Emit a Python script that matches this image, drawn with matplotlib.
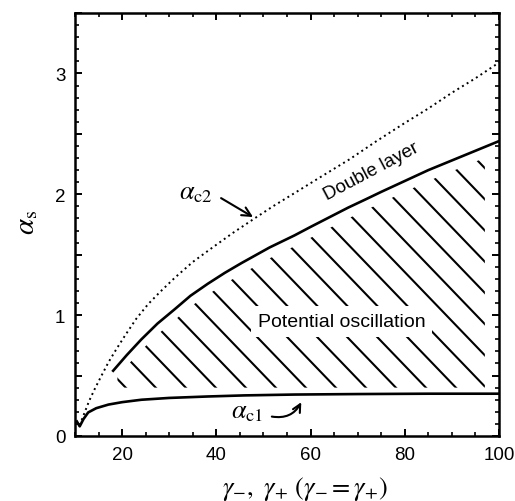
import numpy as np
import matplotlib.pyplot as plt
from matplotlib.collections import LineCollection
from matplotlib.patches import Polygon
from matplotlib.ticker import MultipleLocator, FuncFormatter

plt.rcParams['font.family'] = ['Liberation Sans', 'DejaVu Sans']
plt.rcParams['mathtext.fontset'] = 'stix'

# alpha_c2 (dotted)
gamma_c2 = [11.0, 12.1, 13.0, 14.2, 15.5, 17.1, 18.8, 20.6, 23.0, 25.5, 28.0, 31.2, 35.0,
            39.2, 43.5, 48.1, 52.0, 56.6, 62.0, 68.3, 74.0, 80.0, 85.0, 90.0, 95.0, 100.0]
alpha_c2 = [0.09, 0.20, 0.29, 0.39, 0.49, 0.61, 0.72, 0.83, 0.97, 1.09, 1.19, 1.31, 1.44,
            1.56, 1.68, 1.80, 1.90, 2.01, 2.14, 2.29, 2.44, 2.59, 2.71, 2.84, 2.96, 3.09]

# double layer boundary (solid, upper)
gamma_dl = [18.1, 21.0, 24.1, 27.5, 31.2, 34.5, 38.2, 41.8, 45.3, 51.3, 56.6, 60.0, 64.0,
            68.0, 71.8, 75.0, 80.0, 85.0, 90.0, 95.0, 100.0]
alpha_dl = [0.54, 0.67, 0.80, 0.93, 1.05, 1.16, 1.26, 1.35, 1.43, 1.56, 1.66, 1.73, 1.81,
            1.89, 1.96, 2.02, 2.11, 2.20, 2.28, 2.36, 2.44]

# alpha_c1 (solid, lower)
gamma_c1 = [10.4, 11.0, 11.8, 12.8, 14.5, 17.1, 20.0, 24.1, 30.0, 38.2, 46.0, 56.6, 70.0, 85.0, 100.0]
alpha_c1 = [0.12, 0.08, 0.14, 0.195, 0.23, 0.26, 0.28, 0.30, 0.315, 0.327, 0.336, 0.343, 0.347, 0.35, 0.35]

fig = plt.figure(figsize=(5.15, 5.02), dpi=100)
ax = fig.add_axes([75/515, 65/502, 424/515, 423/502])

ax.plot(gamma_c2, alpha_c2, color='k', lw=1.4, linestyle=(0, (1, 1.8)))
ax.plot(gamma_dl, alpha_dl, color='k', lw=1.9)
ax.plot(gamma_c1, alpha_c1, color='k', lw=1.9)

ax.set_xlim(10, 100)
ax.set_ylim(0, 3.5)

# hatched "potential oscillation" region
xs_h = np.linspace(19, 97, 200)
top_h = np.interp(xs_h, gamma_dl, alpha_dl) - 0.09
verts = list(zip(xs_h, top_h)) + [(97, 0.40), (19, 0.40)]
clip = Polygon(verts, closed=True, transform=ax.transData, facecolor='none', edgecolor='none')
ax.add_patch(clip)
segs = []
for k in range(-10, 25):
    x0 = 0.118 + 0.0708 * k
    segs.append([(x0 + 1.2, 0.116 - 1.25), (x0 - 1.2, 0.116 + 1.25)])
lc = LineCollection(segs, colors='k', linewidths=1.5, transform=ax.transAxes)
ax.add_collection(lc, autolim=False)
lc.set_clip_path(clip)

ax.text(66.6, 0.95, 'Potential oscillation', fontsize=14, ha='center', va='center',
        bbox=dict(facecolor='white', edgecolor='none', pad=5))
ax.text(73.0, 2.19, 'Double layer', fontsize=13.5, ha='center', va='center', rotation=28)

ax.text(35.6, 2.02, r'$\alpha_{\mathrm{c2}}$', fontsize=19, ha='center', va='center')
ax.annotate('', xy=(48.3, 1.80), xytext=(40.5, 1.98),
            arrowprops=dict(arrowstyle='->', lw=1.5, color='k', mutation_scale=16))
ax.text(46.6, 0.21, r'$\alpha_{\mathrm{c1}}$', fontsize=19, ha='center', va='center')
ax.annotate('', xy=(58.3, 0.30), xytext=(51.2, 0.165),
            arrowprops=dict(arrowstyle='->', lw=1.5, color='k', mutation_scale=14,
                            connectionstyle='arc3,rad=0.4'))

ax.xaxis.set_major_locator(MultipleLocator(20))
ax.xaxis.set_minor_locator(MultipleLocator(5))
ax.yaxis.set_major_locator(MultipleLocator(0.5))
ax.yaxis.set_minor_locator(MultipleLocator(0.1))
ax.yaxis.set_major_formatter(FuncFormatter(lambda v, p: f'{v:.0f}' if abs(v - round(v)) < 1e-6 else ''))
ax.tick_params(which='both', direction='in', top=True, right=True, labelsize=13.5)
ax.tick_params(which='major', length=5, width=1.4, pad=7)
ax.tick_params(which='minor', length=3, width=1.2)
for s in ax.spines.values():
    s.set_linewidth(1.8)

fig.text(26/515, 1 - 222/502, r'$\alpha_{\mathrm{s}}$', rotation=90, fontsize=21,
         ha='center', va='center')
fig.text(305/515, 1 - 489/502, r'$\gamma_{-},\ \gamma_{+}\ (\gamma_{-} = \gamma_{+})$',
         fontsize=19, ha='center', va='center')

fig.savefig('out.png', dpi=100)
